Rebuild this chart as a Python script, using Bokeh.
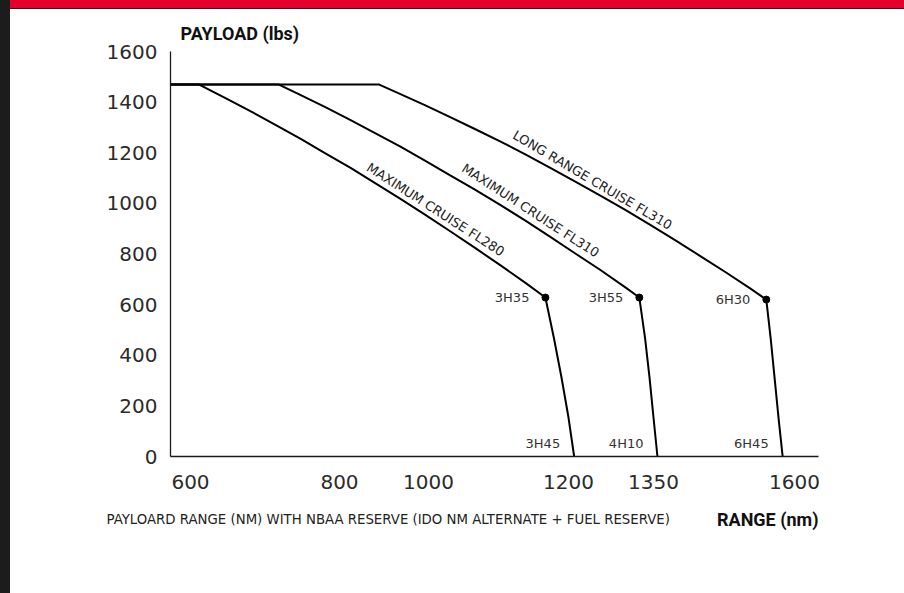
import numpy as np
from bokeh.plotting import figure
from bokeh.models import FixedTicker, Label, Range1d
from bokeh.embed import file_html
from bokeh.resources import INLINE
from bokeh.core.properties import value

# ---------------- data (range in nm, payload in lbs) ----------------
x_tick_values = [600, 800, 1000, 1200, 1350, 1600]
y_tick_values = [0, 200, 400, 600, 800, 1000, 1200, 1400, 1600]

mc280_range = [573, 611, 647, 681, 714, 748, 781, 825, 881, 937, 993, 1031, 1067, 1103,
               1139, 1167, 1179, 1190, 1200, 1210]
mc280_payload = [1470, 1470, 1416, 1364, 1310, 1255, 1198, 1140, 1079, 1018, 955, 890, 823,
                 755, 685, 628, 470, 312, 154, 0]

mc310_range = [573, 718, 748, 781, 825, 881, 937, 993, 1031, 1067, 1103, 1139, 1174, 1212,
               1257, 1301, 1325, 1335, 1343, 1350, 1357]
mc310_payload = [1470, 1470, 1428, 1380, 1329, 1277, 1224, 1168, 1111, 1053, 993, 931, 868,
                 802, 736, 667, 628, 470, 312, 154, 0]

lrc310_range = [573, 888, 937, 993, 1031, 1067, 1103, 1139, 1174, 1212, 1257, 1301, 1345,
                1389, 1433, 1478, 1522, 1550, 1558, 1565, 1572, 1579]
lrc310_payload = [1470, 1470, 1432, 1387, 1341, 1293, 1244, 1193, 1140, 1086, 1030, 973, 914,
                  854, 792, 728, 663, 620, 462, 304, 146, 0]

curve_names = ["MAXIMUM CRUISE FL280", "MAXIMUM CRUISE FL310", "LONG RANGE CRUISE FL310"]

knee_range = [1167, 1325, 1550]
knee_payload = [628, 628, 620]
knee_times = ["3H35", "3H55", "6H30"]

end_range = [1210, 1357, 1579]
end_times = ["3H45", "4H10", "6H45"]

# ---------------- layout (non-uniform range axis) ----------------
TICK_POS = [0, 149, 238, 378, 463, 604]   # axis units of each range tick


def to_axis(nm):
    nm = np.asarray(nm, dtype=float)
    out = np.interp(nm, x_tick_values, TICK_POS)
    slope = (TICK_POS[1] - TICK_POS[0]) / (x_tick_values[1] - x_tick_values[0])
    lo = nm < x_tick_values[0]
    out[lo] = TICK_POS[0] + (nm[lo] - x_tick_values[0]) * slope
    return out


W, H = 904, 593
PX_PER_LB = 0.2531
Y0_PX = 456          # canvas y of payload 0
X0_PX = 190          # canvas x of axis unit 0
y_top = Y0_PX / PX_PER_LB
y_bot = -(H - Y0_PX) / PX_PER_LB

p = figure(width=W, height=H, output_backend="svg", toolbar_location=None,
           x_range=Range1d(-X0_PX, W - X0_PX), y_range=Range1d(y_bot, y_top),
           min_border=0)
p.border_fill_color = None
p.background_fill_color = None
p.outline_line_color = None
p.styles = {
    "background": "linear-gradient(#e3002b,#e3002b) 10px 0 / 100% 8px no-repeat, "
                  "linear-gradient(#4a0a12,#4a0a12) 10px 8px / 100% 1px no-repeat, "
                  "linear-gradient(#1d1c1c,#1d1c1c) 0 0 / 10px 100% no-repeat, #ffffff",
}
p.grid.visible = False

# axes
p.xaxis.fixed_location = 0
p.xaxis.bounds = (-20, 628)
p.yaxis.fixed_location = -20
p.yaxis.bounds = (0, 1600)
p.xaxis.ticker = FixedTicker(ticks=TICK_POS)
p.xaxis.major_label_overrides = {pos: str(v) for pos, v in zip(TICK_POS, x_tick_values)}
p.yaxis.ticker = FixedTicker(ticks=y_tick_values)
for ax in (p.xaxis, p.yaxis):
    ax.axis_line_color = "#1a1a1a"
    ax.axis_line_width = 1.3
    ax.major_tick_line_color = None
    ax.minor_tick_line_color = None
    ax.major_tick_out = 0
    ax.major_tick_in = 0
    ax.major_label_text_font = "DejaVu Sans"
    ax.major_label_text_font_size = "20px"
    ax.major_label_text_color = "#2b2b2b"
p.xaxis.major_label_standoff = 18
p.yaxis.major_label_standoff = 13

# curves
for rng, pay in [(mc280_range, mc280_payload), (mc310_range, mc310_payload),
                 (lrc310_range, lrc310_payload)]:
    p.line(to_axis(rng), pay, line_color="#000000", line_width=2, line_join="round")

p.scatter(to_axis(knee_range), knee_payload, size=7, color="#000000")

p.text(to_axis(knee_range), knee_payload, text=knee_times, x_offset=-16,
       text_align="right", text_baseline="middle",
       text_font=value("DejaVu Sans"), text_font_size="13px", text_color="#333333")

END_LABEL_Y = 52
p.text(to_axis(end_range), [END_LABEL_Y] * 3, text=end_times, x_offset=-14,
       text_align="right", text_baseline="middle",
       text_font=value("DejaVu Sans"), text_font_size="13px", text_color="#333333")

# curve names along the curves (axis units, lbs, angle deg)
name_pos = [(245, 976, -32.7), (340, 972, -32.9), (402, 1092, -30.5)]
for name, (xp, yp, ang) in zip(curve_names, name_pos):
    p.add_layout(Label(x=xp, y=yp, text=name, angle=ang, angle_units="deg",
                       text_align="center", text_baseline="middle",
                       text_font="DejaVu Sans", text_font_size="13px",
                       text_color="#222222"))

# axis titles and note
p.add_layout(Label(x=-10, y=1671, text="PAYLOAD (lbs)", text_align="left",
                   text_baseline="middle", text_font="Roboto",
                   text_font_size="18px", text_font_style="bold", text_color="#111111"))
p.add_layout(Label(x=628, y=-249, text="RANGE (nm)", text_align="right",
                   text_baseline="middle", text_font="Roboto",
                   text_font_size="18px", text_font_style="bold", text_color="#111111"))
p.add_layout(Label(x=-84, y=-249,
                   text="PAYLOARD RANGE (NM) WITH NBAA RESERVE (IDO NM ALTERNATE + FUEL RESERVE)",
                   text_align="left", text_baseline="middle", text_font="DejaVu Sans",
                   text_font_size="13.3px", text_color="#222222"))

open("out.html", "w").write(file_html(p, INLINE))
